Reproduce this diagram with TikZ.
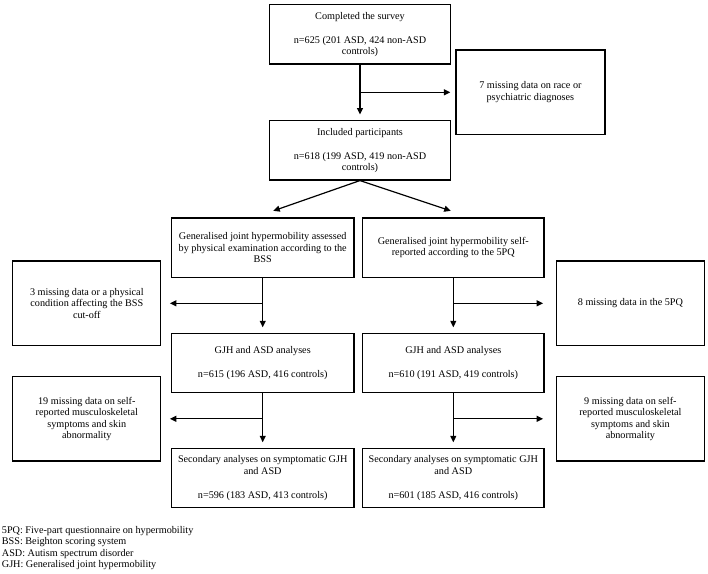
\documentclass[tikz,border=0pt]{standalone}
\usepackage{fontspec}
\setmainfont{Liberation Serif}
\usetikzlibrary{arrows.meta,calc}

\tikzset{
  flowbox/.style={draw, line width=1.2pt, align=center, inner sep=2pt, font=\fontsize{10.2}{11.5}\selectfont},
  mainbox/.style={flowbox, minimum width=181.5pt, minimum height=59.3pt},
  exclbox/.style={flowbox, minimum width=148pt, minimum height=84.5pt},
  flow/.style={-{Triangle[length=6.5pt,width=6pt]}, line width=1.2pt},
}

\begin{document}
\begin{tikzpicture}[x=1pt, y=-1pt]
  \useasboundingbox (0,0) rectangle (708,573);

  % Enrolment
  \node[mainbox] (survey) at (360,34.3) {Completed the survey\\[12.5pt] n=625 (201 ASD, 424 non-ASD\\ controls)};
  \node[exclbox, minimum width=149pt] (excl1) at (530.4,92.3) {7 missing data on race or\\ psychiatric diagnoses};
  \node[mainbox] (incl) at (360,150.3) {Included participants\\[12.5pt] n=618 (199 ASD, 419 non-ASD\\ controls)};

  \draw[flow, shorten >=5.5pt] (survey) -- (incl);
  \draw[flow, shorten >=5pt] (survey.south |- excl1) -- (excl1);

  % Two assessments
  \node[mainbox, minimum width=182.5pt] (bss) at (262.7,247.7) {Generalised joint hypermobility assessed\\ by physical examination according to the\\ BSS};
  \node[mainbox] (fpq) at (453.3,247.7) {Generalised joint hypermobility self-\\ reported according to the 5PQ};

  \draw[flow] (incl.south) -- ([xshift=10.6pt,yshift=6.6pt]bss.north);
  \draw[flow] (incl.south) -- ([xshift=-2.6pt,yshift=6.6pt]fpq.north);

  % Main analyses
  \node[exclbox] (excl2) at (86.8,303.3) {3 missing data or a physical\\ condition affecting the BSS\\ cut-off};
  \node[exclbox] (excl3) at (630.4,303.3) {8 missing data in the 5PQ};
  \node[mainbox, minimum width=182.5pt] (gjhA) at (262.7,363) {GJH and ASD analyses\\[12.5pt] n=615 (196 ASD, 416 controls)};
  \node[mainbox] (gjhB) at (453.3,363) {GJH and ASD analyses\\[12.5pt] n=610 (191 ASD, 419 controls)};

  \draw[flow, shorten >=5.5pt] (bss) -- (gjhA);
  \draw[flow, shorten >=8.5pt] (bss.south |- excl2) -- (excl2);
  \draw[flow, shorten >=5.5pt] (fpq) -- (gjhB);
  \draw[flow, shorten >=12.7pt] (fpq.south |- excl3) -- (excl3);

  % Secondary analyses
  \node[exclbox] (excl4) at (86.8,418.8) {19 missing data on self-\\ reported musculoskeletal\\ symptoms and skin\\ abnormality};
  \node[exclbox] (excl5) at (630.4,418.8) {9 missing data on self-\\ reported musculoskeletal\\ symptoms and skin\\ abnormality};
  \node[mainbox, minimum width=182.5pt] (secA) at (262.7,478) {Secondary analyses on symptomatic GJH\\ and ASD\\[12.5pt] n=596 (183 ASD, 413 controls)};
  \node[mainbox] (secB) at (453.3,478) {Secondary analyses on symptomatic GJH\\ and ASD\\[12.5pt] n=601 (185 ASD, 416 controls)};

  \draw[flow, shorten >=5.5pt] (gjhA) -- (secA);
  \draw[flow, shorten >=8.5pt] (gjhA.south |- excl4) -- (excl4);
  \draw[flow, shorten >=5.5pt] (gjhB) -- (secB);
  \draw[flow, shorten >=12.7pt] (gjhB.south |- excl5) -- (excl5);

  % Abbreviations
  \node[anchor=west, align=left, inner sep=0pt, font=\fontsize{10.2}{11.5}\selectfont] (abbr) at (1.7,548) {5PQ: Five-part questionnaire on hypermobility\\ BSS: Beighton scoring system\\ ASD: Autism spectrum disorder\\ GJH: Generalised joint hypermobility};
\end{tikzpicture}
\end{document}
